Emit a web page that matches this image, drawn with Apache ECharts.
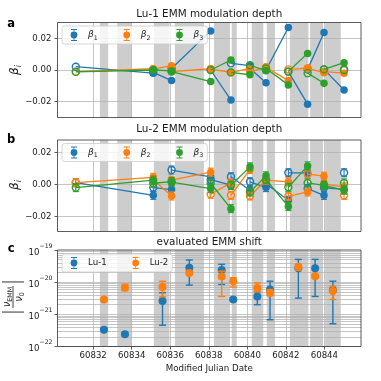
<!DOCTYPE html>
<html>
<head>
<meta charset="utf-8">
<script src="https://cdn.jsdelivr.net/npm/echarts@6/dist/echarts.min.js"></script>
<style>
html, body { margin: 0; padding: 0; background: #fff; }
#main { width: 381px; height: 381px; }
</style>
</head>
<body>
<div id="main"></div>
<script>
// ---- data ----
var xTicks = [60832, 60834, 60836, 60838, 60840, 60842, 60844];
var bands = [[60832.35, 60832.78], [60833.25, 60833.99], [60835.15, 60835.96], [60836.24, 60837.75],
  [60838.27, 60839.10], [60839.19, 60839.45], [60840.23, 60840.83], [60841.01, 60841.44],
  [60842.21, 60843.17], [60843.26, 60843.93], [60844.04, 60844.85]];
// measurement columns of panels a and b
var colX = [60831.10, 60835.12, 60836.07, 60838.10, 60839.15, 60840.14, 60840.97, 60842.13, 60843.13, 60843.98, 60845.02];

// panel a (Lu-1), start values (open) and end values (filled)
var aB1Start = [0.0021, -0.0015, 0.0010, 0.0000, 0.0042, 0.0010, 0.0000, -0.0010, 0.0004, 0.0004, 0.0005];
var aB1End = [-0.0020, -0.0067, 0.0247, -0.0190, 0.0028, -0.0080, 0.0268, -0.0216, 0.0237, -0.0126];
var aB2Start = [-0.0010, 0.0005, -0.0010, 0.0005, -0.0015, -0.0010, 0.0017, 0.0004, 0.0010, -0.0010, 0.0003];
var aB2End = [0.0008, 0.0027, 0.0008, -0.0015, 0.0010, 0.0017, -0.0067, 0.0012, -0.0017, -0.0020];
var aB3Start = [-0.0012, 0.0000, -0.0010, 0.0000, -0.0015, 0.0030, 0.0010, -0.0010, -0.0020, 0.0004, 0.0000];
var aB3End = [0.0000, -0.0006, -0.0073, 0.0063, -0.0030, -0.0004, -0.0094, 0.0105, -0.0084, 0.0046];

// panel b (Lu-2)
var bB1Start = [0.0012, -0.0019, 0.0090, 0.0030, 0.0048, 0.0017, 0.0005, 0.0073, -0.0025, -0.0020, 0.0073];
var bB1End = [-0.0067, -0.0031, 0.0048, -0.0004, -0.0036, -0.0019, -0.0098, 0.0073, -0.0067, -0.0030];
var bB2Start = [0.0012, 0.0030, 0.0027, -0.0060, -0.0067, -0.0071, 0.0027, -0.0073, 0.0065, 0.0004, -0.0067];
var bB2End = [0.0045, -0.0071, 0.0077, 0.0010, 0.0094, 0.0027, 0.0017, -0.0046, 0.0052, -0.0015];
var bB3Start = [-0.0019, 0.0008, 0.0015, 0.0008, -0.0004, -0.0046, 0.0030, -0.0017, 0.0010, -0.0005, 0.0010];
var bB3End = [0.0027, 0.0018, -0.0025, -0.0150, 0.0110, 0.0054, -0.0136, 0.0116, -0.0005, -0.0035];
var bErr = 0.0025;

// panel c, evaluated shift
var shiftX = [60832.56, 60833.65, 60835.60, 60836.99, 60838.67, 60839.27, 60840.52, 60841.18, 60842.65, 60843.52, 60844.44];
var lu1 = [3.3e-22, 2.4e-22, 2.6e-21, 2.8e-20, 2.4e-20, 2.9e-21, 3.6e-21, 5.9e-21, 2.7e-20, 2.7e-20, 5.6e-21];
var lu1Lo = [3.0e-22, 2.2e-22, 4.6e-22, 8.1e-21, 8.5e-21, 2.7e-21, 2.0e-21, 6.8e-22, 3.2e-21, 3.6e-21, 5.1e-22];
var lu1Hi = [3.7e-22, 2.7e-22, 4.7e-21, 4.9e-20, 3.6e-20, 3.1e-21, 5.0e-21, 1.07e-20, 5.1e-20, 5.1e-20, 1.07e-20];
var lu2 = [2.9e-21, 6.8e-21, 7.1e-21, 1.94e-20, 1.5e-20, 1.07e-20, 6.6e-21, 4.7e-21, 3.0e-20, 1.54e-20, 5.3e-21];
var lu2Lo = [2.7e-21, 5.4e-21, 3.5e-21, 1.7e-20, 3.6e-21, 7.1e-21, 5.0e-21, 3.8e-21, 2.3e-20, 1.4e-20, 2.9e-21];
var lu2Hi = [3.1e-21, 8.5e-21, 1.07e-20, 2.2e-20, 2.2e-20, 1.38e-20, 9.5e-21, 5.9e-21, 3.6e-20, 1.7e-20, 7.5e-21];

// the log axis works in units of 1e-22 (ECharts rounds tiny tick values to 0)
var UNIT_EXP = -22;
var UNIT = 1e22;

// ---- styling ----
var FONT = 'DejaVu Sans';
var TXT = '#1a1a1a';
var C1 = '#1f77b4', C2 = '#ff7f0e', C3 = '#2ca02c';
var GRIDC = '#b0b0b0';
var L = 57.5, W = 303.5;
var tops = [22.5, 140, 250], heights = [95, 91.5, 96.5];
var ERR_ICON = 'path://M0,6h0.02v0.02h-0.02Z M18,6h0.02v0.02h-0.02Z M8.6,0h0.8v12h-0.8Z M6,0h6v0.9h-6Z M6,11.1h6v0.9h-6Z M5.6,6a3.4,3.4 0 1,1 6.8,0a3.4,3.4 0 1,1 -6.8,0Z';

var myChart = echarts.init(document.getElementById('main'));

function segData(starts, ends) {
  var d = [];
  for (var i = 0; i < ends.length; i++) {
    d.push([colX[i], starts[i]]);
    d.push([colX[i + 1], ends[i]]);
    d.push([colX[i + 1], '-']);
  }
  return d;
}

function errRender(color, w, lw) {
  return function (params, api) {
    var x = api.value(0);
    var p1 = api.coord([x, api.value(3)]);
    var p2 = api.coord([x, api.value(2)]);
    var st = { stroke: color, lineWidth: lw, fill: null };
    return {
      type: 'group',
      children: [
        { type: 'line', shape: { x1: p1[0], y1: p1[1], x2: p2[0], y2: p2[1] }, style: st },
        { type: 'line', shape: { x1: p1[0] - w, y1: p1[1], x2: p1[0] + w, y2: p1[1] }, style: st },
        { type: 'line', shape: { x1: p2[0] - w, y1: p2[1], x2: p2[0] + w, y2: p2[1] }, style: st }
      ]
    };
  };
}

var series = [];

// bands and grid lines for each panel
for (var g = 0; g < 3; g++) {
  series.push({
    type: 'line', xAxisIndex: g, yAxisIndex: g, data: [], z: 1, silent: true,
    markArea: {
      silent: true, z: 1,
      itemStyle: { color: '#cdcdcd', opacity: 1, borderWidth: 0 },
      data: bands.map(function (b) { return [{ xAxis: b[0] }, { xAxis: b[1] }]; })
    }
  });
  var gl = xTicks.map(function (v) { return { xAxis: v }; });
  if (g < 2) {
    [-0.02, 0, 0.02].forEach(function (v) { gl.push({ yAxis: v }); });
  } else {
    for (var n = 0; n <= 2; n++) {
      for (var k = 1; k <= 9; k++) gl.push({ yAxis: k * Math.pow(10, n) });
    }
  }
  series.push({
    type: 'line', xAxisIndex: g, yAxisIndex: g, data: [], z: 2, silent: true,
    markLine: {
      silent: true, z: 2, symbol: ['none', 'none'], label: { show: false },
      lineStyle: { color: GRIDC, width: 0.8, type: 'solid', opacity: 0.9 },
      data: gl
    }
  });
}

function addBeta(g, starts, ends, color, z, err) {
  series.push({
    type: 'line', xAxisIndex: g, yAxisIndex: g, z: z, silent: true,
    data: segData(starts, ends), showSymbol: false, connectNulls: false,
    lineStyle: { color: color, width: 1.3 }
  });
  var open = starts.map(function (v, i) { return [colX[i], v]; });
  var filled = ends.map(function (v, i) { return [colX[i + 1], v]; });
  if (err) {
    var ed = open.concat(filled).map(function (p) { return [p[0], p[1], p[1] - err, p[1] + err]; });
    series.push({
      type: 'custom', xAxisIndex: g, yAxisIndex: g, z: z, silent: true,
      encode: { x: 0, y: 1 }, data: ed, renderItem: errRender(color, 3, 1.1)
    });
  }
  series.push({
    type: 'scatter', xAxisIndex: g, yAxisIndex: g, z: z, silent: true,
    data: open, symbol: 'circle', symbolSize: 7,
    itemStyle: { color: 'none', borderColor: color, borderWidth: 1.4, opacity: 1 }
  });
  series.push({
    type: 'scatter', xAxisIndex: g, yAxisIndex: g, z: z, silent: true,
    data: filled, symbol: 'circle', symbolSize: 7.5,
    itemStyle: { color: color, opacity: 1 }
  });
}

addBeta(0, aB1Start, aB1End, C1, 3, 0);
addBeta(0, aB2Start, aB2End, C2, 4, 0);
addBeta(0, aB3Start, aB3End, C3, 5, 0);
addBeta(1, bB1Start, bB1End, C1, 3, bErr);
addBeta(1, bB2Start, bB2End, C2, 4, bErr);
addBeta(1, bB3Start, bB3End, C3, 5, bErr);

function addShift(name, vals, lo, hi, color, z) {
  series.push({
    type: 'custom', xAxisIndex: 2, yAxisIndex: 2, z: z, silent: true,
    encode: { x: 0, y: 1 },
    data: vals.map(function (v, i) { return [shiftX[i], v * UNIT, lo[i] * UNIT, hi[i] * UNIT]; }),
    renderItem: errRender(color, 3.5, 1.4)
  });
  series.push({
    name: name, type: 'scatter', xAxisIndex: 2, yAxisIndex: 2, z: z, silent: true,
    data: vals.map(function (v, i) { return [shiftX[i], v * UNIT]; }),
    symbol: 'circle', symbolSize: 8, itemStyle: { color: color, opacity: 1 }
  });
}
addShift('Lu-1', lu1, lu1Lo, lu1Hi, C1, 3);
addShift('Lu-2', lu2, lu2Lo, lu2Hi, C2, 4);

// legend-only entries for the beta panels
[['b1', C1], ['b2', C2], ['b3', C3]].forEach(function (p) {
  series.push({ name: p[0], type: 'scatter', xAxisIndex: 0, yAxisIndex: 0, data: [], itemStyle: { color: p[1], opacity: 1 } });
});

var subRich = {
  g: { fontFamily: FONT, fontStyle: 'italic', fontSize: 9, color: TXT, lineHeight: 12, verticalAlign: 'middle' },
  s: { fontFamily: FONT, fontSize: 6.3, color: TXT, lineHeight: 12, verticalAlign: 'bottom' },
  t: { fontFamily: FONT, fontSize: 8.6, color: TXT }
};

function legendFor(top, names) {
  return {
    left: 62, top: top, orient: 'horizontal', z: 10,
    padding: [3, 4, 3, 3], itemWidth: 18, itemHeight: 12, itemGap: 20,
    backgroundColor: 'rgba(255,255,255,0.8)', borderColor: '#cccccc', borderWidth: 0.8, borderRadius: 2.5,
    selectedMode: false,
    itemStyle: { opacity: 1 },
    data: names.map(function (n) { return { name: n, icon: ERR_ICON }; }),
    formatter: function (name) {
      if (name.charAt(0) === 'b') return '{g|β}{s|' + name.slice(1) + '}';
      return '{t|' + name + '}';
    },
    textStyle: { fontFamily: FONT, fontSize: 8.6, color: TXT, rich: subRich }
  };
}

function xAxisFor(g) {
  return {
    type: 'value', gridIndex: g, min: 60830.15, max: 60845.9,
    axisLine: { show: false }, splitLine: { show: false },
    axisTick: { show: true, length: 3, customValues: xTicks, lineStyle: { color: '#333', width: 0.8 } },
    axisLabel: {
      show: g === 2, customValues: xTicks, margin: 4.5,
      fontFamily: FONT, fontSize: 8.6, color: TXT,
      formatter: function (v) { return String(v); }
    }
  };
}

function betaY(g, mn, mx) {
  var vals = [-0.02, 0, 0.02];
  return {
    type: 'value', gridIndex: g, min: mn, max: mx,
    axisLine: { show: false }, splitLine: { show: false },
    axisTick: { show: true, length: 3, customValues: vals, lineStyle: { color: '#333', width: 0.8 } },
    axisLabel: {
      customValues: vals, margin: 6, fontFamily: FONT, fontSize: 8.6, color: TXT,
      formatter: function (v) {
        if (Math.abs(v) < 1e-9) return '0.00';
        return (v < 0 ? '\u2212' : '') + Math.abs(v).toFixed(2);
      }
    }
  };
}

var supRich = {
  b: { fontFamily: FONT, fontSize: 8.6, color: TXT, lineHeight: 14, verticalAlign: 'bottom' },
  p: { fontFamily: FONT, fontSize: 6.2, color: TXT, lineHeight: 14, verticalAlign: 'top' }
};

function txt(x, y, text, size, extra) {
  var st = {
    text: text, fontFamily: FONT, fontSize: size, fill: TXT,
    align: 'center', verticalAlign: 'middle', textAlign: 'center', textVerticalAlign: 'middle'
  };
  for (var key in (extra || {})) st[key] = extra[key];
  return { type: 'text', x: x, y: y, z: 100, style: st };
}

var graphics = [];
for (var f = 0; f < 3; f++) {
  graphics.push({
    type: 'rect', z: 100, silent: true,
    shape: { x: L, y: tops[f], width: W, height: heights[f] },
    style: { fill: 'none', stroke: '#333', lineWidth: 0.8 }
  });
}
graphics.push(txt(L + W / 2, 14, 'Lu-1 EMM modulation depth', 10.4));
graphics.push(txt(L + W / 2, 129.5, 'Lu-2 EMM modulation depth', 10.4));
graphics.push(txt(L + W / 2, 242.3, 'evaluated EMM shift', 10.4));
graphics.push(txt(11.2, 23.7, 'a', 11.5, { fontWeight: 'bold', fill: '#000' }));
graphics.push(txt(11.2, 140.5, 'b', 11.5, { fontWeight: 'bold', fill: '#000' }));
graphics.push(txt(11.2, 249.5, 'c', 11.5, { fontWeight: 'bold', fill: '#000' }));
graphics.push(txt(L + W / 2, 368.5, 'Modified Julian Date', 8.7));

var yRich = {
  g: { fontFamily: FONT, fontStyle: 'italic', fontSize: 12, color: TXT, lineHeight: 16, verticalAlign: 'middle' },
  s: { fontFamily: FONT, fontStyle: 'italic', fontSize: 8, color: TXT, lineHeight: 16, verticalAlign: 'bottom' }
};
[70, 185].forEach(function (cy) {
  var t = txt(15, cy, '{g|β}{s|i}', 12, { rich: yRich });
  t.rotation = Math.PI / 2;
  graphics.push(t);
});

var nuRich = {
  n: { fontFamily: FONT, fontStyle: 'italic', fontSize: 10, color: TXT, lineHeight: 12, verticalAlign: 'middle' },
  s: { fontFamily: FONT, fontSize: 6.3, color: TXT, lineHeight: 12, verticalAlign: 'bottom' }
};
graphics.push({
  type: 'group', x: 13, y: 297, rotation: Math.PI / 2, z: 100,
  children: [
    txt(0, -5.5, '{n|ν}{s|EMM}', 10, { rich: nuRich }),
    { type: 'rect', shape: { x: -11, y: -0.4, width: 22, height: 0.8 }, style: { fill: TXT } },
    txt(0, 6.5, '{n|ν}{s|0}', 10, { rich: nuRich }),
    { type: 'rect', shape: { x: -15.5, y: -11, width: 0.9, height: 22 }, style: { fill: TXT } },
    { type: 'rect', shape: { x: 14.6, y: -11, width: 0.9, height: 22 }, style: { fill: TXT } }
  ]
});

var option = {
  animation: false,
  backgroundColor: '#fff',
  grid: [0, 1, 2].map(function (g) {
    return { left: L, width: W, top: tops[g], height: heights[g], show: false };
  }),
  xAxis: [xAxisFor(0), xAxisFor(1), xAxisFor(2)],
  yAxis: [
    betaY(0, -0.03, 0.03),
    betaY(1, -0.0292, 0.0277),
    {
      type: 'log', gridIndex: 2, logBase: 10, min: 1, max: 1000,
      axisLine: { show: false }, splitLine: { show: false }, minorTick: { show: false },
      axisTick: { show: true, length: 3, lineStyle: { color: '#333', width: 0.8 } },
      axisLabel: {
        margin: 5, fontFamily: FONT, fontSize: 8.6, color: TXT, rich: supRich,
        formatter: function (v) {
          var e = Math.round(Math.log(v) / Math.LN10) + UNIT_EXP;
          return '{b|10}{p|\u2212' + Math.abs(e) + '}';
        }
      }
    }
  ],
  legend: [legendFor(26, ['b1', 'b2', 'b3']), legendFor(143.5, ['b1', 'b2', 'b3']), legendFor(254, ['Lu-1', 'Lu-2'])],
  graphic: graphics,
  series: series
};
myChart.setOption(option);
</script>
</body>
</html>
